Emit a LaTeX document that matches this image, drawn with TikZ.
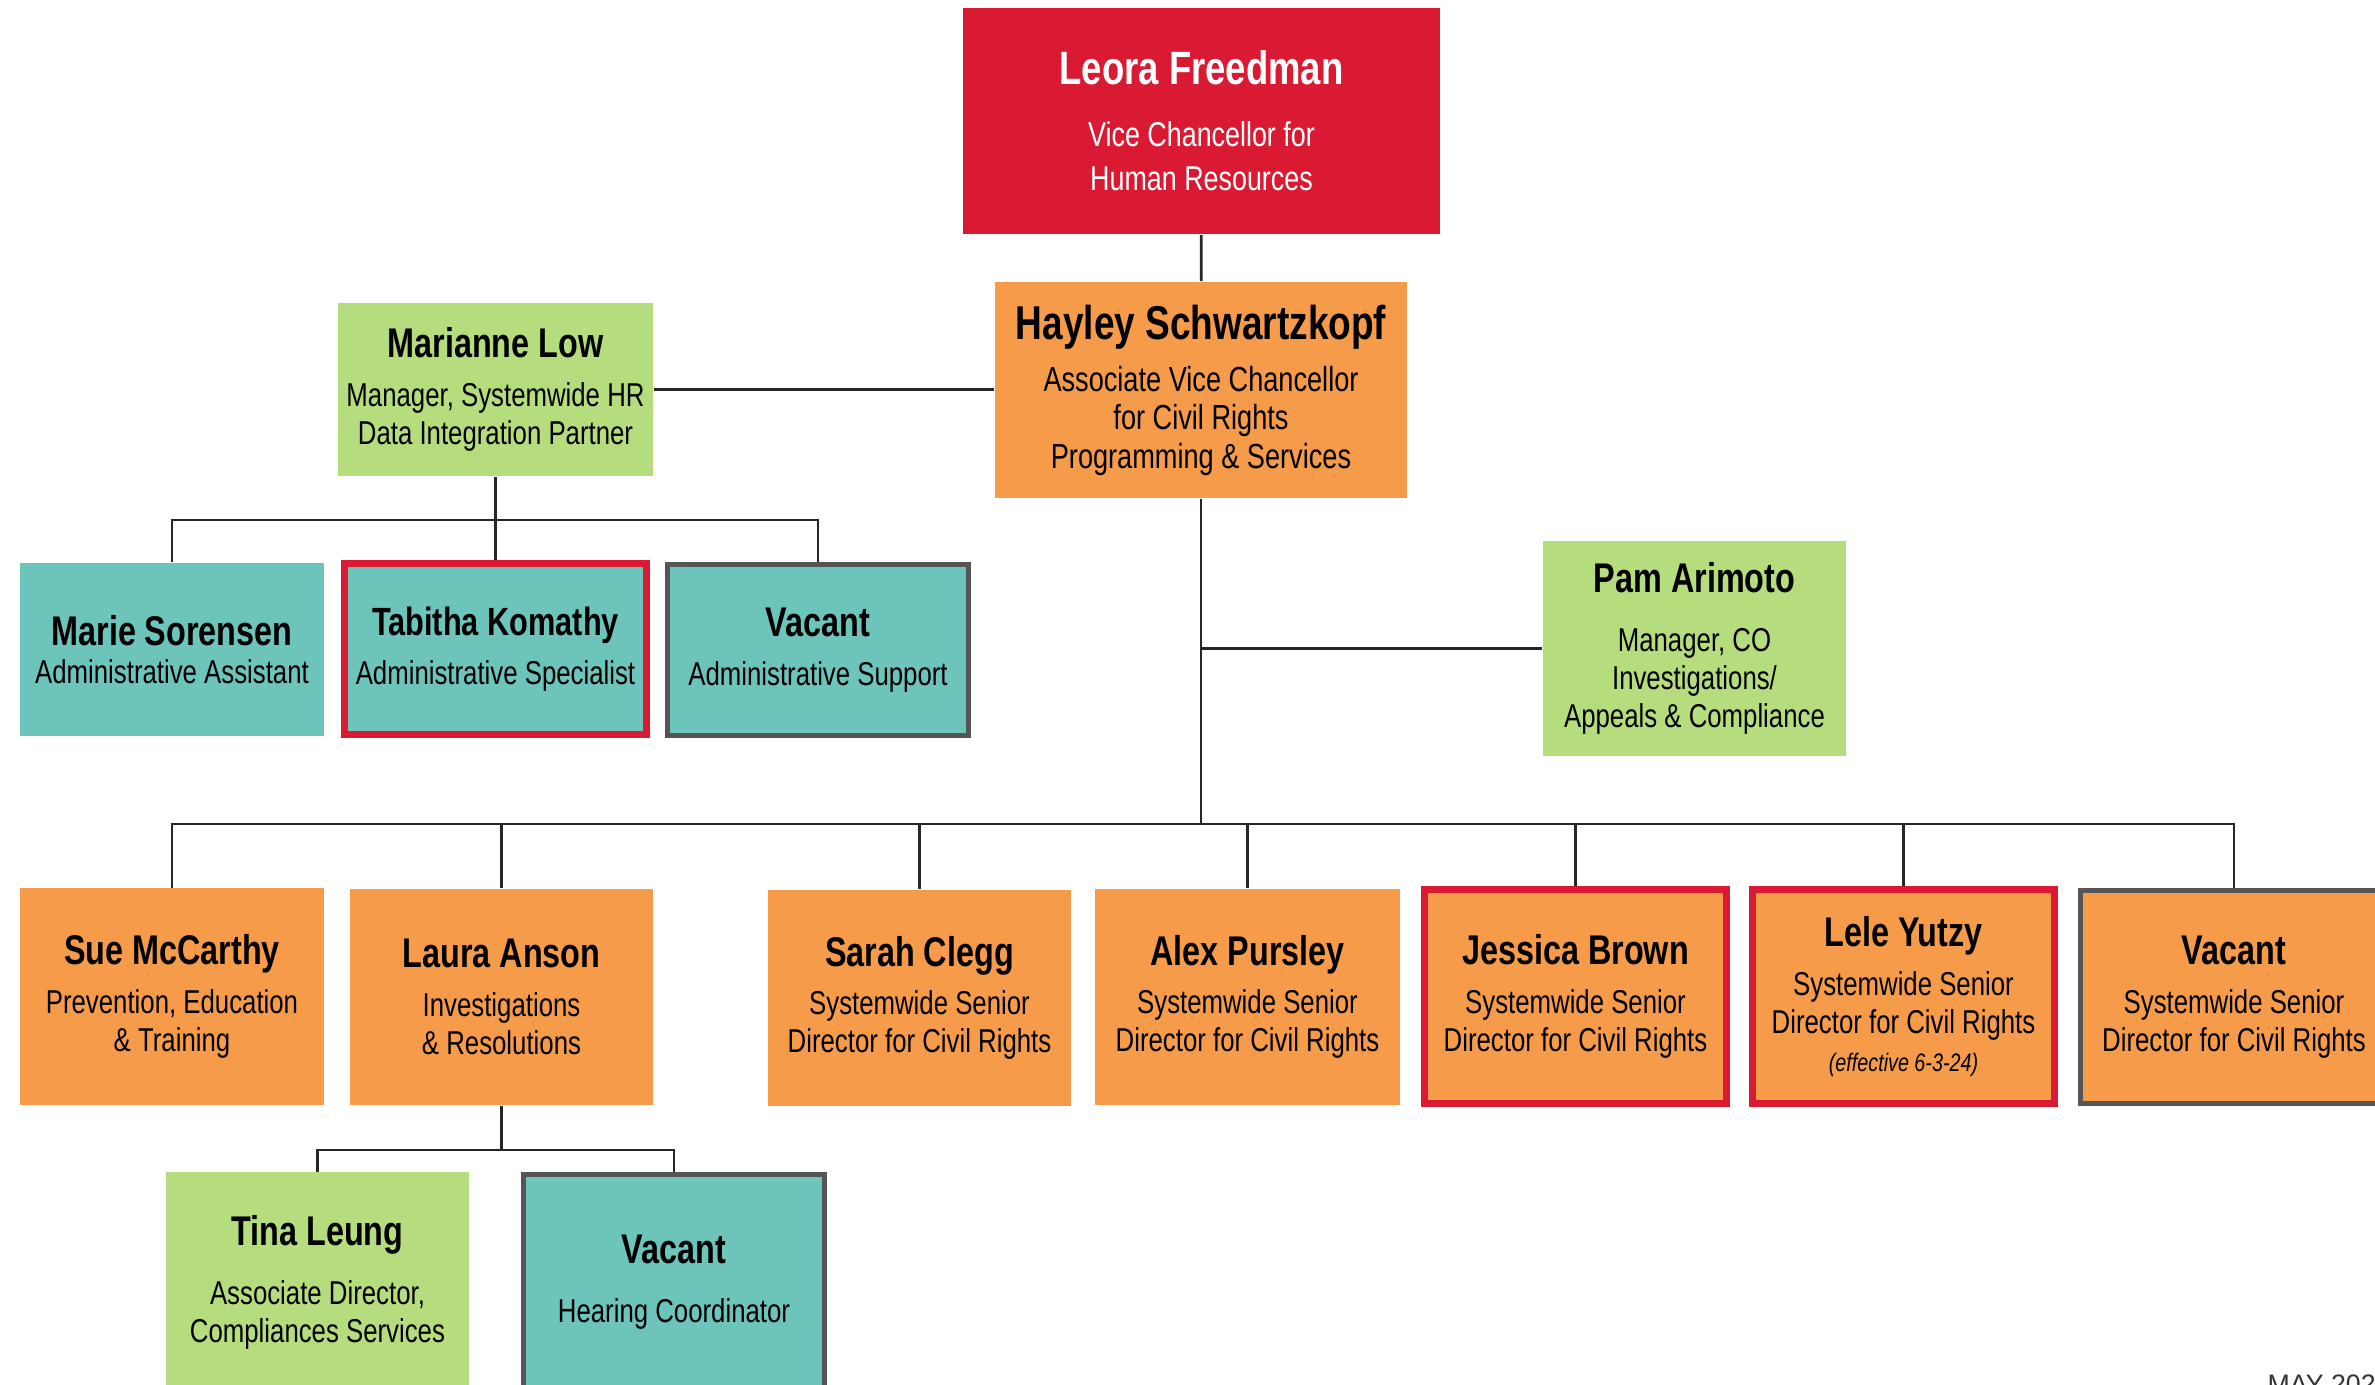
\documentclass[tikz,border=0pt]{standalone}
\usepackage{fontspec}
\setmainfont{Liberation Sans}[FakeStretch=0.78]
\newfontfamily\datefont{Liberation Sans}
\usetikzlibrary{positioning}

\definecolor{hrred}{HTML}{DA1A32}
\definecolor{hrorange}{HTML}{F59B4A}
\definecolor{hrgreen}{HTML}{B5DD7E}
\definecolor{hrteal}{HTML}{6CC4BA}
\definecolor{hrgrey}{HTML}{555555}

\newcommand{\nm}[2][11.8]{{\fontsize{#1}{14}\selectfont\bfseries #2}}

\tikzset{
  card/.style={rectangle, align=center, inner sep=0pt, minimum width=3.04cm,
    minimum height=2.16cm, font=\fontsize{9.4}{10.8}\selectfont},
  redcard/.style={card, fill=hrred, text=white},
  orangecard/.style={card, fill=hrorange},
  greencard/.style={card, fill=hrgreen},
  tealcard/.style={card, fill=hrteal},
  redframe/.style={draw=hrred, line width=2pt},
  greyframe/.style={draw=hrgrey, line width=1.5pt},
  link/.style={draw=black!85, line width=0.8pt}
}

\begin{document}
\begin{tikzpicture}[x=0.01cm, y=-0.01cm]

	\useasboundingbox (0,0) rectangle (2375,1384);
	\clip (0,0) rectangle (2375,1384);

	% top of the chart
	\node[redcard, minimum width=4.77cm, minimum height=2.26cm, font=\fontsize{9.8}{12.6}\selectfont]
		(leora) at (1201.5,121) {\nm[13.3]{Leora Freedman}\\[5pt]Vice Chancellor for\\Human Resources};
	\node[orangecard, minimum width=4.12cm, font=\fontsize{9.9}{10.9}\selectfont] (hayley) at (1201,390)
		{\nm[13.5]{Hayley Schwartzkopf}\\[4pt]Associate Vice Chancellor\\for Civil Rights\\Programming \& Services};
	\node[greencard, minimum width=3.15cm, minimum height=1.73cm] (marianne) at (495.5,389.5)
		{\nm{Marianne Low}\\[3pt]Manager, Systemwide HR\\Data Integration Partner};
	\node[greencard, minimum width=3.03cm, minimum height=2.15cm] (pam) at (1694.5,648.5)
		{\nm{Pam Arimoto}\\[6pt]Manager, CO\\Investigations/\\Appeals \& Compliance};

	% administrative staff
	\node[tealcard, minimum height=1.73cm] (marie) at (172,649.5)
		{\nm{Marie Sorensen}\\Administrative Assistant};
	\node[tealcard, redframe, minimum width=3.02cm, minimum height=1.71cm] (tabitha) at (495.5,649)
		{\nm[11.2]{Tabitha Komathy}\\[3pt]Administrative Specialist};
	\node[tealcard, greyframe, minimum width=3.01cm, minimum height=1.71cm] (vacadm) at (818,650)
		{\nm{Vacant}\\[3pt]Administrative Support};

	% directors
	\node[orangecard] (sue) at (172,996.5) {\nm{Sue McCarthy}\\[3pt]Prevention, Education\\\& Training};
	\node[orangecard, minimum width=3.03cm] (laura) at (501.5,997) {\nm{Laura Anson}\\[3pt]Investigations\\\& Resolutions};
	\node[orangecard, minimum width=3.03cm] (sarah) at (919.5,998) {\nm{Sarah Clegg}\\[3pt]Systemwide Senior\\Director for Civil Rights};
	\node[orangecard, minimum width=3.05cm] (alex) at (1247.5,997) {\nm{Alex Pursley}\\[3pt]Systemwide Senior\\Director for Civil Rights};
	\node[orangecard, redframe, minimum width=3.02cm, minimum height=2.14cm] (jessica) at (1575.5,996.5)
		{\nm{Jessica Brown}\\[3pt]Systemwide Senior\\Director for Civil Rights};
	\node[orangecard, redframe, minimum width=3.02cm, minimum height=2.14cm] (lele) at (1903.5,996.5)
		{\nm{Lele Yutzy}\\[3pt]Systemwide Senior\\Director for Civil Rights\\[0pt]{\fontsize{7.2}{8}\selectfont\itshape (effective 6-3-24)}};
	\node[orangecard, greyframe, minimum width=3.07cm, minimum height=2.13cm] (vacdir) at (2234,997)
		{\nm{Vacant}\\[3pt]Systemwide Senior\\Director for Civil Rights};

	% investigations team
	\node[greencard, minimum width=3.03cm, minimum height=2.19cm] (tina) at (317.5,1282)
		{\nm{Tina Leung}\\[6pt]Associate Director,\\Compliances Services};
	\node[tealcard, greyframe, minimum width=3.01cm, minimum height=2.15cm] (vachear) at (674,1282)
		{\nm{Vacant}\\[6pt]Hearing Coordinator};

	\node[anchor=north west, inner sep=0pt, font=\datefont\fontsize{7.6}{9}\selectfont, text=black!80]
		(date) at (2267,1374) {MAY 2024};

	% connectors
	\coordinate (admbar) at (495.5,520);
	\coordinate (dirbar) at (1201,824);
	\coordinate (invbar) at (501.5,1150);

	\draw[link] (leora) -- (hayley);
	\draw[link] (marianne.east) -- (hayley.west |- marianne.east);
	\draw[link] (marianne.south) -- (admbar);
	\draw[link] (marie.north) |- (admbar) -| (vacadm.north);
	\draw[link] (admbar) -- (tabitha.north);
	\draw[link] (hayley.south) -- (dirbar);
	\draw[link] (pam.west) -- (pam.west -| hayley.south);
	\draw[link] (sue.north) |- (dirbar) -| (vacdir.north);
	\foreach \n in {laura,sarah,alex,jessica,lele}
		\draw[link] (\n.north) -- (\n.north |- dirbar);
	\draw[link] (laura.south) -- (invbar);
	\draw[link] (tina.north) |- (invbar) -| (vachear.north);

\end{tikzpicture}
\end{document}
